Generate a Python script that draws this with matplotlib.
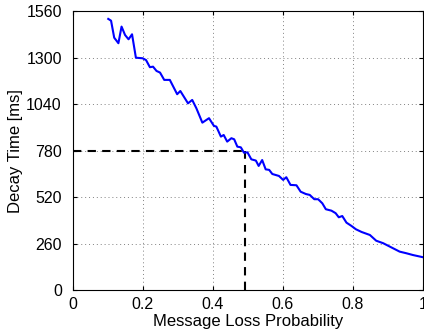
import numpy as np
import matplotlib
matplotlib.use('Agg')
import matplotlib.pyplot as plt

plt.rcParams['font.family'] = ['Liberation Sans', 'DejaVu Sans']

# message loss probability vs. decay time
loss = [0.101, 0.109, 0.118, 0.130, 0.139, 0.149, 0.159, 0.169, 0.180, 0.199,
        0.209, 0.220, 0.229, 0.239, 0.249, 0.261, 0.277, 0.298, 0.307, 0.329,
        0.341, 0.353, 0.370, 0.389, 0.403, 0.410, 0.423, 0.431, 0.441, 0.453,
        0.461, 0.470, 0.480, 0.489, 0.499, 0.510, 0.523, 0.531, 0.541, 0.551,
        0.561, 0.570, 0.589, 0.601, 0.610, 0.622, 0.639, 0.651, 0.666, 0.677,
        0.690, 0.701, 0.713, 0.723, 0.739, 0.751, 0.760, 0.770, 0.782, 0.796,
        0.809, 0.825, 0.849, 0.867, 0.887, 0.901, 0.915, 0.934, 0.953, 0.972,
        1.0]
decay = [1518, 1508, 1413, 1382, 1475, 1428, 1404, 1432, 1301, 1298,
         1288, 1248, 1251, 1227, 1218, 1177, 1177, 1097, 1115, 1046,
         1065, 1018, 938, 963, 920, 916, 860, 869, 832, 851,
         845, 804, 800, 770, 772, 733, 726, 696, 729, 677,
         674, 651, 640, 618, 633, 590, 588, 552, 539, 534,
         510, 510, 487, 454, 446, 432, 409, 416, 379, 361,
         342, 327, 310, 278, 264, 250, 236, 217, 208, 198,
         186]

thr_x = 0.493
thr_y = 780
yticks = [0, 260, 520, 780, 1040, 1300, 1560]
xticks = [0, 0.2, 0.4, 0.6, 0.8, 1]
xticklabels = ['0', '0.2', '0.4', '0.6', '0.8', '1']

fig = plt.figure(figsize=(4.24, 3.35), dpi=100)
ax = fig.add_axes([0.172, 0.133, 0.825, 0.833])

ax.plot(loss, decay, color='#0000ff', lw=1.5, zorder=3)
ax.plot([0, thr_x], [thr_y, thr_y], '--k', lw=1.5, dashes=(4, 3), zorder=2)
ax.plot([thr_x, thr_x], [0, thr_y], '--k', lw=1.5, dashes=(4, 3), zorder=2)

ax.set_xlim(0, 1)
ax.set_ylim(0, 1560)
ax.set_xticks(xticks)
ax.set_xticklabels(xticklabels)
ax.set_yticks(yticks)
ax.grid(True, ls=(0, (1, 3)), color='#808080', lw=0.7)
ax.tick_params(direction='in', labelsize=11.5, length=3, top=True, right=True)
ax.tick_params(axis='y', pad=8)
ax.tick_params(axis='x', pad=5)
for s in ax.spines.values():
    s.set_linewidth(0.8)

ax.set_xlabel('Message Loss Probability', fontsize=12, labelpad=1)
ax.set_ylabel('Decay Time [ms]', fontsize=12, labelpad=2)

fig.savefig('out.png', dpi=100)
